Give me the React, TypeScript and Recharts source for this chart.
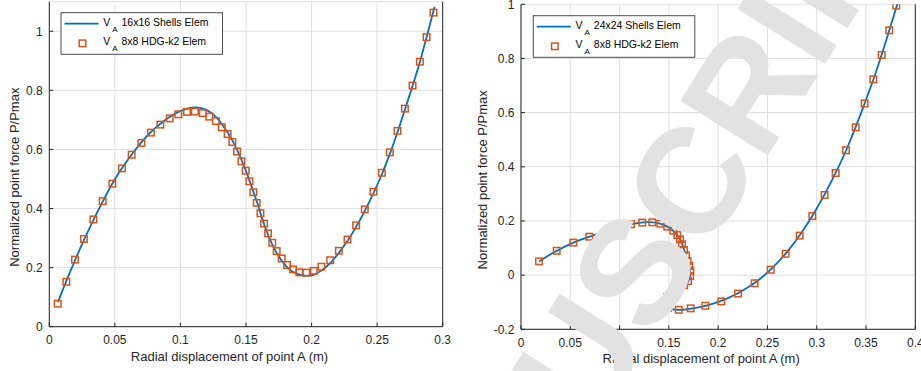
import React from 'react';
import { ComposedChart, Line, Scatter, XAxis, YAxis, CartesianGrid } from 'recharts';

const FONT = '"Liberation Sans", Arial, Helvetica, sans-serif';
const AXIS = '#262626';
const BLUE = '#0072BD';
const ORANGE = '#D95319';

// left panel — 16x16 shells (line) vs 8x8 HDG-k2 (squares)
const leftShellX = [0.0066, 0.013, 0.02, 0.027, 0.034, 0.041, 0.048, 0.0555, 0.063, 0.07, 0.0775, 0.085, 0.092, 0.099, 0.105, 0.111, 0.117, 0.122, 0.127, 0.1315, 0.136, 0.14, 0.1435, 0.147, 0.15, 0.153, 0.156, 0.159, 0.1615, 0.164, 0.167, 0.17, 0.1735, 0.1775, 0.1815, 0.186, 0.191, 0.1965, 0.202, 0.2075, 0.2142, 0.2208, 0.2274, 0.234, 0.2406, 0.2472, 0.2536, 0.2597, 0.2655, 0.2712, 0.277, 0.2826, 0.2877, 0.2938];
const leftShellY = [0.083, 0.155, 0.229, 0.299, 0.364, 0.426, 0.484, 0.537, 0.583, 0.623, 0.659, 0.688, 0.711, 0.728, 0.738, 0.742, 0.738, 0.728, 0.71, 0.686, 0.657, 0.627, 0.595, 0.56, 0.527, 0.49, 0.452, 0.414, 0.378, 0.344, 0.309, 0.278, 0.249, 0.222, 0.201, 0.185, 0.176, 0.172, 0.176, 0.19, 0.215, 0.25, 0.291, 0.338, 0.392, 0.452, 0.516, 0.585, 0.658, 0.735, 0.815, 0.896, 0.98, 1.083];
const leftHdgX = [0.0064, 0.013, 0.0196, 0.0264, 0.0336, 0.0407, 0.0481, 0.0554, 0.0628, 0.0702, 0.0775, 0.0847, 0.0918, 0.0984, 0.105, 0.111, 0.117, 0.122, 0.127, 0.1315, 0.136, 0.1396, 0.1432, 0.1465, 0.1498, 0.1526, 0.1556, 0.1582, 0.161, 0.1638, 0.1668, 0.17, 0.1734, 0.1772, 0.1813, 0.1859, 0.1907, 0.196, 0.2017, 0.2075, 0.2142, 0.2208, 0.2274, 0.234, 0.2406, 0.2472, 0.2536, 0.2597, 0.2655, 0.2712, 0.277, 0.2826, 0.2877, 0.293];
const leftHdgY = [0.078, 0.152, 0.227, 0.297, 0.363, 0.425, 0.484, 0.536, 0.582, 0.622, 0.657, 0.684, 0.705, 0.719, 0.727, 0.728, 0.723, 0.711, 0.696, 0.675, 0.652, 0.625, 0.593, 0.56, 0.528, 0.492, 0.455, 0.419, 0.384, 0.349, 0.316, 0.284, 0.256, 0.231, 0.209, 0.194, 0.184, 0.183, 0.189, 0.203, 0.225, 0.257, 0.295, 0.343, 0.397, 0.457, 0.521, 0.59, 0.663, 0.738, 0.816, 0.897, 0.98, 1.063];

// right panel — 24x24 shells (line) vs 8x8 HDG-k2 (squares), snap-back path
const rightShellX = [0.0183, 0.03, 0.045, 0.06, 0.075, 0.09, 0.105, 0.118, 0.13, 0.14, 0.148, 0.155, 0.1605, 0.1645, 0.168, 0.1705, 0.1718, 0.171, 0.168, 0.162, 0.1555, 0.15, 0.1463, 0.1445, 0.148, 0.156, 0.166, 0.18, 0.195, 0.21, 0.225, 0.24, 0.255, 0.27, 0.285, 0.3, 0.315, 0.33, 0.345, 0.36, 0.372, 0.382];
const rightShellY = [0.05, 0.077, 0.106, 0.13, 0.149, 0.166, 0.182, 0.192, 0.196, 0.191, 0.18, 0.162, 0.138, 0.105, 0.065, 0.035, 0.01, -0.012, -0.03, -0.045, -0.058, -0.074, -0.092, -0.108, -0.12, -0.127, -0.127, -0.119, -0.105, -0.085, -0.057, -0.021, 0.027, 0.086, 0.159, 0.246, 0.347, 0.462, 0.599, 0.749, 0.885, 1.003];
const rightHdgX = [0.0183, 0.0362, 0.0531, 0.0693, 0.0858, 0.0995, 0.1116, 0.123, 0.1332, 0.1413, 0.1484, 0.1545, 0.1586, 0.1613, 0.1633, 0.1653, 0.1674, 0.1691, 0.1707, 0.1718, 0.1716, 0.1695, 0.1655, 0.1582, 0.1529, 0.1484, 0.1458, 0.1443, 0.149, 0.16, 0.1721, 0.187, 0.2032, 0.2201, 0.237, 0.2533, 0.2685, 0.2827, 0.2955, 0.308, 0.3192, 0.3297, 0.3395, 0.3486, 0.3574, 0.3659, 0.3736, 0.3807];
const rightHdgY = [0.051, 0.09, 0.12, 0.142, 0.161, 0.177, 0.188, 0.194, 0.195, 0.19, 0.179, 0.164, 0.148, 0.132, 0.114, 0.093, 0.073, 0.052, 0.034, 0.016, -0.003, -0.022, -0.037, -0.049, -0.065, -0.081, -0.097, -0.107, -0.121, -0.128, -0.1226, -0.113, -0.097, -0.068, -0.03, 0.02, 0.079, 0.146, 0.218, 0.296, 0.377, 0.461, 0.546, 0.634, 0.723, 0.813, 0.904, 0.995];

const leftXTicks = [0, 0.05, 0.1, 0.15, 0.2, 0.25, 0.3];
const leftYTicks = [0, 0.2, 0.4, 0.6, 0.8, 1];
const rightXTicks = [0, 0.05, 0.1, 0.15, 0.2, 0.25, 0.3, 0.35, 0.4];
const rightYTicks = [-0.2, 0, 0.2, 0.4, 0.6, 0.8, 1];

const zip = (xs: number[], ys: number[]) => xs.map((x, i) => ({ x, y: ys[i] }));

const Square = (p: any) => (
  <rect x={p.cx - 3.25} y={p.cy - 3.25} width={6.5} height={6.5} fill="none" stroke={ORANGE} strokeWidth={1.5} />
);

function Panel(props: any) {
  const { w, top, xh, yw, rw, xDomain, xTicks, yDomain, yTicks, line, squares, curve, xdx, xdy, ydx, ydy } = props;
  return (
    <ComposedChart width={w} height={371} margin={{ top, right: 0, bottom: 0, left: 0 }} style={{ fontFamily: FONT }}>
      <CartesianGrid stroke="#dfdfdf" />
      <XAxis
        dataKey="x" type="number" domain={xDomain} ticks={xTicks} interval={0} allowDataOverflow
        height={xh} tickSize={-4} tickMargin={12.8} stroke={AXIS} tick={{ fill: AXIS, fontSize: 12 }}
        label={{ value: 'Radial displacement of point A (m)', position: 'center', dx: xdx, dy: xdy, fill: AXIS, fontSize: 13 }}
      />
      <XAxis xAxisId="top" orientation="top" dataKey="x" type="number" domain={xDomain} ticks={xTicks} interval={0}
        allowDataOverflow height={0} tickSize={-4} tick={false} stroke={AXIS} />
      <YAxis
        dataKey="y" type="number" domain={yDomain} ticks={yTicks} interval={0} allowDataOverflow
        width={yw} tickSize={-4} tickMargin={10.6} stroke={AXIS} tick={{ fill: AXIS, fontSize: 12 }}
        label={{ value: 'Normalized point force P/Pmax', angle: -90, position: 'center', dx: ydx, dy: ydy, fill: AXIS, fontSize: 13 }}
      />
      <YAxis yAxisId="right" orientation="right" dataKey="y" type="number" domain={yDomain} ticks={yTicks} interval={0}
        allowDataOverflow width={rw} tickSize={-4} tick={false} stroke={AXIS} />
      <Line data={line} dataKey="y" type={curve} stroke={BLUE} strokeWidth={1.8} dot={false} isAnimationActive={false} />
      <Scatter data={squares} dataKey="y" shape={Square} isAnimationActive={false} />
    </ComposedChart>
  );
}

function LegendBox({ bx, by, name }: { bx: number; by: number; name: string }) {
  return (
    <g fontFamily={FONT} fill="#000">
      <rect x={bx} y={by} width={161.5} height={41.6} fill="#fff" stroke="#4d4d4d" strokeWidth={1} />
      <line x1={bx + 3.5} x2={bx + 37.5} y1={by + 11} y2={by + 11} stroke={BLUE} strokeWidth={1.8} />
      <rect x={bx + 18.25} y={by + 27.35} width={6.5} height={6.5} fill="none" stroke={ORANGE} strokeWidth={1.5} />
      <text x={bx + 42.3} y={by + 13.3} fontSize={10.5}>V</text>
      <text x={bx + 51.3} y={by + 19} fontSize={8}>A</text>
      <text x={bx + 60.5} y={by + 13.3} fontSize={10.5}>{name}</text>
      <text x={bx + 42.3} y={by + 32.3} fontSize={10.5}>V</text>
      <text x={bx + 51.3} y={by + 38} fontSize={8}>A</text>
      <text x={bx + 60.5} y={by + 32.3} fontSize={10.5}>8x8 HDG-k2 Elem</text>
    </g>
  );
}

export default function App() {
  return (
    <div style={{ position: 'absolute', left: 0, top: 0, width: 921, height: 371, background: '#fff', overflow: 'hidden' }}>
      <div style={{ position: 'absolute', left: 0, top: 0 }}>
        <Panel w={460} top={1.7} xh={44.3} yw={49.3} rw={17.3} xDomain={[0, 0.3]} xTicks={leftXTicks}
          yDomain={[0, 1.1]} yTicks={leftYTicks} line={zip(leftShellX, leftShellY)} squares={zip(leftHdgX, leftHdgY)}
          curve="monotone" xdx={-16.5} xdy={8} ydx={-10.3} ydy={13} />
      </div>
      <div style={{ position: 'absolute', left: 460, top: 0 }}>
        <Panel w={461} top={4.3} xh={41.7} yw={61} rw={5.7} xDomain={[0, 0.4]} xTicks={rightXTicks}
          yDomain={[-0.2, 1]} yTicks={rightYTicks} line={zip(rightShellX, rightShellY)} squares={zip(rightHdgX, rightHdgY)}
          curve="natural" xdx={-17} xdy={8.5} ydx={-8.5} ydy={13} />
      </div>
      <svg width={921} height={371} style={{ position: 'absolute', left: 0, top: 0, pointerEvents: 'none' }}>
        <LegendBox bx={61} by={12.7} name="16x16 Shells Elem" />
        <LegendBox bx={533.3} by={15.7} name="24x24 Shells Elem" />
        <text x={413.6} y={722.3} transform="rotate(-58 413.6 722.3)" fontSize={150} fontWeight="bold" fill="#e2e2e2" fontFamily={FONT}>
          MANUSCRIPT
        </text>
      </svg>
    </div>
  );
}
